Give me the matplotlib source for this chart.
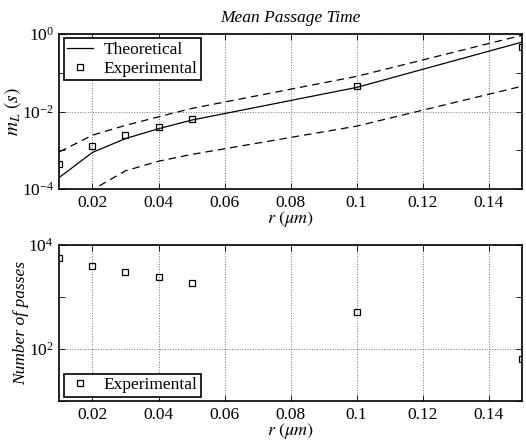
import matplotlib
matplotlib.use("Agg")
import matplotlib.pyplot as plt
from matplotlib.ticker import FixedLocator, LogFormatterSciNotation, NullFormatter

plt.rcParams['font.family'] = ['Liberation Serif', 'DejaVu Serif']
plt.rcParams['mathtext.fontset'] = 'stix'
plt.rcParams['font.size'] = 12.5

# data
r = [0.01, 0.02, 0.03, 0.04, 0.05, 0.10, 0.15]
m_theory = [2.0e-4, 8.8e-4, 2.0e-3, 3.6e-3, 6.0e-3, 0.042, 0.62]
m_upper = [9.1e-4, 2.45e-3, 4.4e-3, 7.3e-3, 0.012, 0.081, 0.93]
m_lower = [2.0e-5, 9.5e-5, 2.95e-4, 5.2e-4, 7.8e-4, 4.2e-3, 0.045]
m_exp = [4.5e-4, 1.28e-3, 2.45e-3, 4.1e-3, 6.6e-3, 0.045, 0.46]
passes = [5500, 3900, 3050, 2400, 1900, 510, 63]

xticks = [0.02, 0.04, 0.06, 0.08, 0.1, 0.12, 0.14]
xticklabels = ['0.02', '0.04', '0.06', '0.08', '0.1', '0.12', '0.14']

fig = plt.figure(figsize=(5.26, 4.4), dpi=100)
ax1 = fig.add_axes([0.113, 0.5705, 0.879, 0.352])
ax2 = fig.add_axes([0.113, 0.0886, 0.879, 0.3546])

def style(ax):
    ax.set_yscale('log')
    ax.set_xlim(0.01, 0.15)
    ax.set_xticks(xticks)
    ax.set_xticklabels(xticklabels)
    ax.tick_params(which='both', direction='in', top=True, right=True, length=4, width=0.6)
    ax.tick_params(which='major', labelsize=12.5, pad=4)
    ax.grid(True, which='major', linestyle=':', color='0.45', linewidth=0.7)
    for s in ax.spines.values():
        s.set_linewidth(1.2)
    ax.set_xlabel(r'$r\ (\mu m)$', fontsize=13, labelpad=-1)

legend_kw = dict(fancybox=False, edgecolor='k', framealpha=1, fontsize=12.5,
                 borderaxespad=0.25, handlelength=1.5, borderpad=0.2,
                 labelspacing=0.15, handletextpad=0.6)

# top panel
ax1.plot(r, m_theory, 'k-', lw=0.9, label='Theoretical')
ax1.plot(r, m_upper, 'k--', lw=0.9, dashes=(6, 4))
ax1.plot(r, m_lower, 'k--', lw=0.9, dashes=(6, 4))
ax1.plot(r, m_exp, 's', ms=5, mfc='none', mec='k', mew=0.9, label='Experimental')
style(ax1)
ax1.set_ylim(1e-4, 1e0)
ax1.yaxis.set_major_locator(FixedLocator([1e-4, 1e-2, 1e0]))
ax1.yaxis.set_major_formatter(LogFormatterSciNotation())
ax1.yaxis.set_minor_locator(FixedLocator([1e-3, 1e-1]))
ax1.yaxis.set_minor_formatter(NullFormatter())
ax1.set_ylabel(r'$m_L$ $(s)$', fontsize=14)
ax1.yaxis.set_label_coords(-0.078, 0.5)
ax1.set_title('Mean Passage Time', fontsize=12.5, style='italic', pad=9)
leg1 = ax1.legend(loc='upper left', **legend_kw)
leg1.get_frame().set_linewidth(1.2)

# bottom panel
ax2.plot(r, passes, 's', ms=5, mfc='none', mec='k', mew=0.9, label='Experimental')
style(ax2)
ax2.set_ylim(10, 1e4)
ax2.yaxis.set_major_locator(FixedLocator([1e2, 1e4]))
ax2.yaxis.set_major_formatter(LogFormatterSciNotation())
ax2.yaxis.set_minor_locator(FixedLocator([1e1, 1e3]))
ax2.yaxis.set_minor_formatter(NullFormatter())
ax2.set_ylabel('Number of passes', fontsize=12.5, style='italic')
ax2.yaxis.set_label_coords(-0.066, 0.5)
leg2 = ax2.legend(loc='lower left', **legend_kw)
leg2.get_frame().set_linewidth(1.2)

fig.savefig('out.png', dpi=100)
